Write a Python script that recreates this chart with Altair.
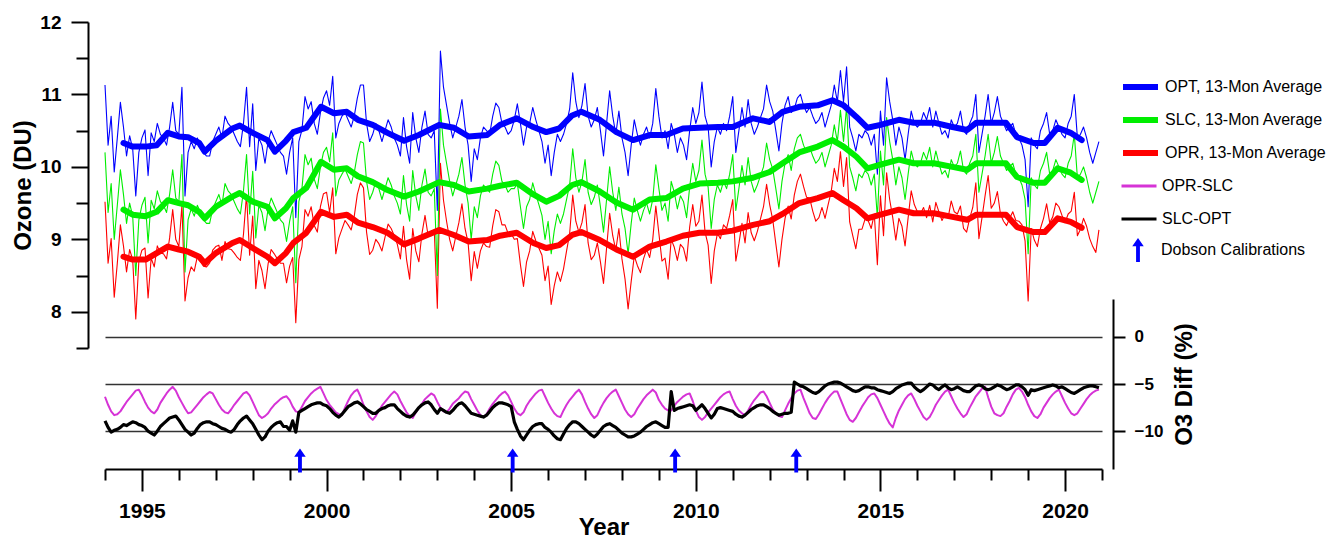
import altair as alt
import pandas as pd

START_YEAR = 1994

# ---- monthly series (one row per year, Jan..Dec) ----
OPT_MONTHLY = [
    [11.13, 10.30, 10.70, 9.93, 10.40, 10.89, 10.55, 10.15, 10.43, 10.25, 9.60, 10.20],
    [10.40, 10.51, 9.88, 10.47, 10.35, 10.60, 10.45, 10.40, 10.30, 10.55, 10.89, 10.50],
    [10.45, 11.10, 9.60, 10.20, 10.35, 10.25, 10.40, 10.30, 10.20, 10.15, 10.15, 10.35],
    [10.45, 10.55, 10.40, 10.70, 10.60, 10.55, 10.45, 10.35, 10.28, 10.60, 11.10, 10.28],
    [10.87, 9.95, 10.40, 10.30, 10.05, 10.35, 10.50, 10.40, 10.30, 10.20, 10.15, 9.90],
    [10.20, 10.40, 9.30, 10.35, 10.51, 10.97, 10.80, 10.90, 10.60, 10.45, 10.75, 10.95],
    [11.05, 10.85, 11.25, 10.40, 10.60, 10.70, 10.75, 10.65, 10.55, 10.70, 10.95, 11.13],
    [11.13, 10.60, 10.35, 10.45, 10.60, 10.50, 10.35, 10.50, 10.65, 10.55, 10.40, 10.30],
    [10.15, 10.68, 10.28, 10.05, 10.75, 10.40, 10.20, 10.55, 10.77, 10.45, 10.40, 10.50],
    [9.40, 11.60, 11.10, 10.85, 10.60, 10.40, 10.55, 10.70, 10.93, 10.55, 10.30, 9.80],
    [10.25, 10.10, 10.40, 10.55, 10.50, 10.45, 10.70, 10.88, 10.82, 10.60, 10.55, 10.45],
    [10.50, 10.65, 10.87, 10.60, 10.30, 10.55, 10.60, 10.82, 10.65, 10.50, 10.35, 10.05],
    [10.30, 9.88, 10.20, 10.45, 10.35, 10.45, 10.60, 10.80, 11.30, 10.90, 10.68, 10.85],
    [11.15, 10.70, 10.55, 10.65, 10.82, 10.50, 10.15, 10.60, 11.05, 10.70, 10.45, 10.77],
    [10.40, 10.20, 9.88, 10.30, 10.65, 10.45, 10.30, 10.45, 10.55, 10.40, 10.60, 11.08],
    [10.70, 10.40, 10.50, 10.25, 10.60, 10.45, 10.20, 10.40, 10.30, 10.10, 10.50, 10.82],
    [10.60, 10.75, 11.17, 10.70, 10.55, 10.00, 10.35, 10.55, 10.45, 10.60, 10.50, 10.70],
    [10.97, 10.20, 10.50, 10.82, 10.55, 10.93, 10.60, 10.45, 10.55, 10.68, 10.80, 11.13],
    [10.90, 10.77, 10.50, 10.22, 10.60, 10.85, 10.97, 10.75, 10.80, 10.95, 11.00, 10.85],
    [10.75, 10.82, 10.70, 10.60, 10.65, 10.75, 10.55, 10.70, 10.85, 11.13, 10.90, 11.33],
    [10.90, 11.38, 10.55, 10.40, 10.22, 10.45, 10.40, 10.50, 10.45, 10.30, 10.45, 9.90],
    [10.77, 10.30, 11.23, 10.90, 10.65, 10.30, 10.55, 10.40, 10.10, 10.45, 10.77, 10.60],
    [10.55, 10.60, 10.75, 10.65, 10.82, 10.55, 10.77, 10.60, 10.45, 10.50, 10.40, 10.65],
    [10.55, 10.60, 10.77, 10.50, 10.45, 10.60, 10.70, 11.00, 10.20, 10.45, 10.70, 11.00],
    [10.60, 10.75, 10.97, 10.70, 10.60, 10.50, 10.55, 10.60, 10.45, 10.40, 10.30, 10.10],
    [9.45, 10.40, 10.30, 10.25, 10.50, 10.60, 10.75, 10.45, 10.50, 10.65, 10.55, 10.45],
    [10.40, 10.60, 10.70, 11.00, 10.40, 10.45, 10.55, 10.40, 10.20, 10.05, 10.20, 10.35],
]

SLC_MONTHLY = [
    [10.20, 9.37, 9.77, 9.00, 9.47, 9.96, 9.62, 9.22, 9.50, 9.32, 8.50, 9.27],
    [9.47, 9.58, 8.95, 9.54, 9.42, 9.67, 9.52, 9.47, 9.37, 9.62, 9.96, 9.57],
    [9.52, 10.17, 8.55, 9.27, 9.42, 9.32, 9.47, 9.37, 9.27, 9.22, 9.22, 9.42],
    [9.52, 9.62, 9.47, 9.77, 9.67, 9.62, 9.52, 9.42, 9.35, 9.67, 10.17, 9.35],
    [9.94, 9.02, 9.47, 9.37, 9.12, 9.42, 9.57, 9.47, 9.37, 9.27, 9.22, 8.97],
    [9.25, 9.45, 8.40, 9.52, 9.70, 10.17, 10.03, 10.12, 9.83, 9.70, 10.00, 10.20],
    [10.27, 10.07, 10.47, 9.60, 9.82, 9.90, 9.97, 9.87, 9.77, 9.92, 10.17, 10.35],
    [10.33, 9.80, 9.55, 9.65, 9.80, 9.70, 9.55, 9.70, 9.85, 9.75, 9.60, 9.50],
    [9.35, 9.88, 9.48, 9.25, 9.95, 9.60, 9.40, 9.75, 9.97, 9.65, 9.60, 9.70],
    [8.50, 10.80, 10.30, 10.05, 9.80, 9.60, 9.75, 9.90, 10.13, 9.75, 9.50, 9.00],
    [9.45, 9.30, 9.60, 9.75, 9.70, 9.65, 9.90, 10.08, 10.02, 9.80, 9.75, 9.65],
    [9.70, 9.70, 9.77, 9.45, 9.15, 9.45, 9.55, 9.78, 9.62, 9.48, 9.33, 9.00],
    [9.25, 8.80, 9.12, 9.35, 9.22, 9.35, 9.55, 9.75, 10.25, 9.85, 9.65, 9.80],
    [10.10, 9.65, 9.48, 9.58, 9.75, 9.45, 9.10, 9.55, 10.00, 9.65, 9.40, 9.72],
    [9.35, 9.15, 8.80, 9.22, 9.57, 9.40, 9.25, 9.40, 9.50, 9.35, 9.55, 10.03],
    [9.70, 9.40, 9.50, 9.25, 9.80, 9.65, 9.42, 9.60, 9.52, 9.30, 9.72, 10.05],
    [9.80, 9.95, 10.37, 9.90, 9.72, 9.15, 9.55, 9.75, 9.65, 9.80, 9.70, 9.90],
    [10.17, 9.40, 9.70, 10.02, 9.75, 10.13, 9.80, 9.65, 9.75, 9.88, 10.00, 10.33],
    [10.10, 9.97, 9.70, 9.42, 9.80, 10.05, 10.17, 9.95, 10.25, 10.40, 10.45, 10.30],
    [10.20, 10.27, 10.15, 10.05, 10.10, 10.20, 10.00, 10.15, 10.30, 10.58, 10.35, 10.78],
    [10.35, 10.83, 10.00, 9.85, 9.67, 9.90, 9.85, 9.95, 9.90, 9.75, 9.90, 9.30],
    [10.22, 9.75, 10.68, 10.35, 10.10, 9.75, 10.00, 9.85, 9.55, 9.90, 10.22, 10.05],
    [10.00, 10.05, 10.20, 10.10, 10.27, 10.00, 10.22, 10.05, 9.90, 9.95, 9.85, 10.10],
    [10.00, 10.05, 10.22, 9.95, 9.90, 10.05, 10.15, 10.45, 9.65, 9.90, 10.15, 10.45],
    [10.05, 10.20, 10.42, 10.15, 10.05, 9.95, 10.00, 10.05, 9.90, 9.85, 9.75, 9.55],
    [8.80, 9.85, 9.75, 9.70, 9.95, 10.05, 10.20, 9.90, 9.95, 10.10, 10.00, 9.90],
    [9.85, 10.05, 10.15, 10.45, 9.85, 9.90, 10.00, 9.85, 9.65, 9.50, 9.65, 9.80],
]

OPR_MONTHLY = [
    [9.52, 8.67, 9.01, 8.20, 8.67, 9.20, 8.91, 8.55, 8.86, 8.72, 7.90, 8.70],
    [8.85, 8.88, 8.19, 8.74, 8.62, 8.91, 8.81, 8.80, 8.73, 9.02, 9.41, 9.00],
    [8.90, 9.47, 8.15, 8.47, 8.62, 8.56, 8.76, 8.70, 8.63, 8.62, 8.67, 8.85],
    [8.90, 8.92, 8.71, 8.97, 8.87, 8.86, 8.81, 8.75, 8.71, 9.07, 9.62, 8.78],
    [9.32, 8.32, 8.71, 8.57, 8.32, 8.66, 8.86, 8.80, 8.73, 8.67, 8.67, 8.40],
    [8.63, 8.75, 7.85, 8.72, 8.90, 9.41, 9.32, 9.45, 9.19, 9.10, 9.45, 9.63],
    [9.65, 9.37, 9.71, 8.80, 9.02, 9.14, 9.26, 9.20, 9.13, 9.32, 9.62, 9.78],
    [9.71, 9.10, 8.79, 8.85, 9.00, 8.94, 8.84, 9.03, 9.21, 9.15, 9.05, 8.93],
    [8.73, 9.18, 8.72, 8.45, 9.15, 8.84, 8.69, 9.08, 9.33, 9.05, 9.05, 9.13],
    [8.05, 10.05, 9.54, 9.25, 9.00, 8.84, 9.04, 9.23, 9.49, 9.15, 8.95, 8.43],
    [8.83, 8.60, 8.84, 8.95, 8.90, 8.89, 9.19, 9.41, 9.38, 9.20, 9.20, 9.08],
    [9.08, 9.00, 9.01, 8.65, 8.35, 8.69, 8.84, 9.11, 8.98, 8.88, 8.78, 8.43],
    [8.63, 8.10, 8.36, 8.55, 8.42, 8.59, 8.84, 9.08, 9.61, 9.25, 9.10, 9.23],
    [9.48, 8.95, 8.72, 8.78, 8.95, 8.69, 8.39, 8.88, 9.36, 9.05, 8.85, 9.15],
    [8.73, 8.45, 8.04, 8.42, 8.77, 8.64, 8.54, 8.73, 8.86, 8.75, 9.00, 9.46],
    [9.08, 8.70, 8.74, 8.45, 9.00, 8.89, 8.71, 8.93, 8.88, 8.70, 9.17, 9.48],
    [9.18, 9.25, 9.61, 9.10, 8.92, 8.39, 8.84, 9.08, 9.01, 9.20, 9.15, 9.33],
    [9.55, 8.70, 8.94, 9.22, 8.95, 9.37, 9.09, 8.98, 9.11, 9.28, 9.45, 9.76],
    [9.48, 9.27, 8.94, 8.62, 9.00, 9.29, 9.46, 9.28, 9.61, 9.80, 9.90, 9.73],
    [9.58, 9.57, 9.39, 9.25, 9.30, 9.44, 9.29, 9.48, 9.66, 9.98, 9.80, 10.21],
    [9.73, 10.13, 9.24, 9.05, 8.87, 9.14, 9.14, 9.28, 9.26, 9.15, 9.35, 8.65],
    [9.60, 9.05, 9.92, 9.55, 9.30, 8.99, 9.29, 9.18, 8.91, 9.30, 9.67, 9.48],
    [9.38, 9.35, 9.44, 9.30, 9.47, 9.24, 9.51, 9.38, 9.26, 9.35, 9.30, 9.53],
    [9.38, 9.35, 9.46, 9.15, 9.10, 9.29, 9.44, 9.78, 9.01, 9.30, 9.60, 9.88],
    [9.43, 9.50, 9.66, 9.35, 9.25, 9.19, 9.29, 9.38, 9.26, 9.25, 9.20, 8.98],
    [8.15, 9.15, 8.99, 8.90, 9.15, 9.29, 9.49, 9.23, 9.31, 9.50, 9.45, 9.33],
    [9.23, 9.35, 9.39, 9.65, 9.05, 9.14, 9.29, 9.18, 9.01, 8.90, 8.82, 9.13],
]

OPR_SLC_MONTHLY = [
    [-6.35, -7.2, -7.9, -8.3, -8.2, -7.9, -7.4, -6.9, -6.5, -6.1, -5.7, -5.6],
    [-6.2, -6.9, -7.5, -7.9, -8.1, -7.7, -7.0, -6.5, -6.0, -5.6, -5.3, -5.7],
    [-6.4, -7.0, -7.6, -8.1, -8.0, -7.6, -7.2, -6.8, -6.4, -6.1, -5.85, -6.0],
    [-6.6, -7.2, -7.7, -8.0, -8.1, -7.7, -7.2, -6.8, -6.4, -6.0, -5.85, -6.2],
    [-6.9, -7.6, -8.3, -8.6, -8.4, -8.1, -7.6, -7.2, -6.9, -6.6, -6.4, -6.3],
    [-6.7, -7.4, -7.9, -8.0, -7.4, -6.8, -6.4, -6.0, -5.7, -5.5, -5.3, -6.0],
    [-6.7, -7.2, -7.6, -8.0, -8.2, -8.3, -7.5, -6.8, -6.2, -5.8, -5.6, -6.3],
    [-7.2, -7.9, -8.5, -8.8, -8.4, -7.8, -7.3, -6.9, -6.5, -6.1, -5.8, -6.1],
    [-6.8, -7.4, -8.0, -8.4, -8.6, -8.0, -7.5, -7.1, -6.6, -6.3, -6.0, -6.2],
    [-6.9, -7.5, -7.9, -8.0, -7.6, -7.1, -6.8, -6.5, -6.1, -5.8, -5.9, -6.6],
    [-7.2, -7.8, -8.3, -8.5, -8.2, -7.6, -7.1, -6.7, -6.3, -6.0, -5.8, -6.2],
    [-6.9, -7.6, -8.1, -8.3, -8.0, -7.3, -6.8, -6.4, -6.0, -5.7, -5.6, -6.3],
    [-7.0, -7.6, -8.1, -8.4, -8.5, -7.8, -7.2, -6.7, -6.3, -5.9, -5.6, -6.1],
    [-6.9, -7.6, -8.2, -8.6, -8.3, -7.6, -7.0, -6.5, -6.1, -5.8, -5.6, -6.3],
    [-7.0, -7.7, -8.2, -8.5, -8.2, -7.6, -7.1, -6.6, -6.2, -5.9, -5.6, -5.9],
    [-6.7, -7.2, -7.6, -7.8, -7.8, -7.3, -6.9, -6.6, -6.3, -6.1, -6.0, -6.8],
    [-7.8, -8.5, -8.8, -8.5, -8.0, -7.6, -7.2, -6.8, -6.4, -6.1, -5.9, -5.8],
    [-6.6, -7.3, -7.8, -8.1, -8.3, -7.8, -7.2, -6.7, -6.3, -5.9, -5.8, -6.3],
    [-7.0, -7.7, -8.1, -8.4, -8.5, -7.8, -7.1, -6.5, -6.0, -5.7, -5.6, -6.5],
    [-7.3, -8.1, -8.6, -8.7, -8.2, -7.6, -7.0, -6.5, -6.1, -5.8, -5.8, -6.6],
    [-7.4, -8.2, -8.8, -9.0, -8.6, -8.0, -7.4, -6.9, -6.4, -6.1, -6.0, -6.5],
    [-7.2, -7.9, -8.6, -9.2, -9.6, -8.6, -7.8, -7.2, -6.6, -6.2, -6.0, -6.6],
    [-7.3, -7.9, -8.5, -8.8, -8.5, -7.9, -7.2, -6.7, -6.2, -5.8, -5.6, -6.3],
    [-7.0, -7.6, -8.1, -8.5, -8.2, -7.5, -6.9, -6.3, -5.9, -5.5, -5.3, -6.4],
    [-7.4, -8.1, -8.3, -8.4, -8.1, -7.4, -6.8, -6.1, -5.6, -5.4, -5.8, -6.4],
    [-7.2, -7.9, -8.4, -8.6, -8.2, -7.5, -7.0, -6.5, -6.1, -5.8, -5.6, -6.3],
    [-7.0, -7.6, -8.1, -8.3, -8.1, -7.6, -7.1, -6.6, -6.2, -5.9, -5.7, -5.6],
]

SLC_OPT_MONTHLY = [
    [-8.9, -9.6, -10.1, -9.9, -9.8, -9.6, -9.3, -9.4, -9.2, -9.0, -9.1, -9.3],
    [-9.4, -9.6, -10.0, -10.2, -10.4, -10.0, -9.5, -9.2, -8.9, -8.6, -8.5, -8.4],
    [-8.8, -9.3, -9.8, -10.1, -10.4, -10.2, -9.7, -9.3, -9.1, -9.0, -9.0, -9.2],
    [-9.3, -9.5, -9.7, -9.8, -10.0, -10.1, -9.8, -9.3, -8.9, -8.6, -8.4, -8.8],
    [-9.2, -9.8, -10.4, -10.9, -10.6, -10.0, -9.6, -9.3, -9.1, -9.0, -9.5, -9.5],
    [-9.9, -8.9, -10.1, -8.0, -7.8, -7.6, -7.4, -7.2, -7.1, -7.0, -7.0, -7.2],
    [-7.3, -7.6, -8.0, -8.3, -8.5, -8.2, -7.8, -7.4, -7.2, -7.0, -6.9, -7.1],
    [-7.4, -7.7, -7.9, -8.1, -8.1, -7.8, -7.6, -7.5, -7.3, -7.2, -7.2, -7.6],
    [-7.9, -8.2, -8.4, -8.5, -8.3, -7.9, -7.5, -7.2, -7.0, -6.9, -7.2, -7.7],
    [-8.1, -7.6, -7.8, -8.0, -8.1, -7.8, -7.4, -7.1, -7.0, -7.3, -7.7, -8.1],
    [-8.2, -8.3, -8.4, -8.5, -8.3, -7.9, -7.5, -7.2, -7.0, -7.0, -7.1, -7.2],
    [-7.4, -9.0, -9.8, -10.5, -10.9, -10.4, -9.9, -9.5, -9.3, -9.2, -9.2, -9.6],
    [-9.8, -10.1, -10.5, -10.8, -10.9, -10.3, -9.7, -9.3, -9.0, -9.0, -9.2, -9.5],
    [-9.8, -10.1, -10.4, -10.6, -10.3, -9.9, -9.5, -9.3, -9.2, -9.4, -9.6, -9.9],
    [-10.2, -10.4, -10.6, -10.6, -10.5, -10.3, -10.1, -9.8, -9.5, -9.3, -9.1, -9.0],
    [-9.2, -9.4, -9.6, -9.6, -5.8, -7.8, -7.6, -7.5, -7.4, -7.3, -7.2, -7.3],
    [-7.8, -7.5, -7.2, -7.6, -8.1, -8.6, -8.2, -7.6, -7.5, -7.6, -7.7, -7.8],
    [-7.9, -8.2, -8.4, -8.5, -8.3, -8.0, -7.7, -7.5, -7.3, -7.2, -7.2, -7.4],
    [-7.6, -7.9, -8.1, -8.3, -8.2, -8.1, -8.1, -8.0, -4.8, -5.0, -5.2, -5.3],
    [-5.5, -5.7, -5.9, -6.0, -5.8, -5.5, -5.2, -5.0, -4.9, -4.8, -4.8, -4.9],
    [-5.1, -5.3, -5.5, -5.7, -5.8, -5.7, -5.5, -5.3, -5.3, -5.4, -5.4, -5.6],
    [-5.7, -5.8, -5.9, -6.0, -5.8, -5.5, -5.3, -5.1, -5.0, -4.9, -4.9, -5.3],
    [-5.6, -5.8, -5.6, -5.3, -5.0, -5.1, -5.4, -5.6, -5.3, -5.1, -5.4, -5.6],
    [-5.5, -5.3, -5.5, -5.7, -5.8, -5.8, -5.5, -5.2, -5.1, -5.2, -5.5, -5.6],
    [-5.5, -5.3, -5.1, -5.2, -5.4, -5.6, -5.5, -5.3, -5.1, -5.1, -5.3, -5.6],
    [-6.2, -5.6, -5.7, -5.6, -5.5, -5.4, -5.3, -5.2, -5.1, -5.2, -5.4, -5.3],
    [-5.5, -5.7, -5.9, -6.0, -5.8, -5.6, -5.4, -5.3, -5.2, -5.2, -5.3, -5.4],
]

# ---- 13-month running averages (decimal year, DU) ----
AVG_YEARS = [
    1994.5, 1994.75, 1995.1, 1995.4, 1995.7, 1996.0, 1996.25, 1996.55, 1996.7, 1997.0,
    1997.45, 1997.65, 1998.0, 1998.4, 1998.6, 1998.9, 1999.1, 1999.45, 1999.85, 2000.2,
    2000.55, 2000.85, 2001.25, 2001.65, 2002.1, 2002.5, 2003.05, 2003.45, 2003.85, 2004.35,
    2004.7, 2005.15, 2005.6, 2005.95, 2006.3, 2006.65, 2006.9, 2007.4, 2007.85, 2008.3,
    2008.75, 2009.2, 2009.65, 2010.1, 2010.6, 2011.0, 2011.55, 2012.0, 2012.35, 2012.8,
    2013.3, 2013.7, 2014.0, 2014.35, 2014.65, 2015.0, 2015.5, 2015.9, 2016.45, 2016.95,
    2017.35, 2017.6, 2018.05, 2018.4, 2018.7, 2019.15, 2019.45, 2019.8, 2020.15, 2020.45,
]
OPT_AVG = [
    10.33, 10.28, 10.28, 10.30, 10.47, 10.42, 10.41, 10.33, 10.21, 10.36,
    10.53, 10.57, 10.47, 10.37, 10.21, 10.36, 10.48, 10.54, 10.83, 10.74,
    10.76, 10.65, 10.58, 10.47, 10.36, 10.44, 10.58, 10.54, 10.42, 10.44,
    10.58, 10.67, 10.55, 10.48, 10.53, 10.71, 10.76, 10.65, 10.48, 10.37,
    10.44, 10.44, 10.53, 10.54, 10.55, 10.55, 10.67, 10.62, 10.76, 10.83,
    10.85, 10.92, 10.85, 10.69, 10.54, 10.58, 10.65, 10.61, 10.61, 10.55,
    10.51, 10.61, 10.61, 10.61, 10.41, 10.33, 10.33, 10.54, 10.47, 10.37,
]
SLC_AVG = [
    9.41, 9.34, 9.32, 9.38, 9.54, 9.50, 9.47, 9.38, 9.29, 9.45,
    9.59, 9.64, 9.52, 9.45, 9.29, 9.43, 9.57, 9.71, 10.07, 9.96,
    9.98, 9.87, 9.79, 9.68, 9.59, 9.66, 9.79, 9.75, 9.66, 9.70,
    9.74, 9.78, 9.62, 9.52, 9.60, 9.75, 9.79, 9.66, 9.51, 9.41,
    9.55, 9.57, 9.70, 9.77, 9.78, 9.80, 9.85, 9.93, 10.05, 10.20,
    10.28, 10.37, 10.28, 10.14, 9.98, 10.03, 10.10, 10.05, 10.05, 10.00,
    9.96, 10.05, 10.05, 10.05, 9.86, 9.78, 9.78, 9.98, 9.92, 9.82,
]
OPR_AVG = [
    8.76, 8.72, 8.72, 8.81, 8.90, 8.86, 8.83, 8.76, 8.67, 8.81,
    8.95, 8.99, 8.88, 8.76, 8.67, 8.81, 8.95, 9.09, 9.38, 9.31,
    9.34, 9.23, 9.17, 9.09, 8.93, 9.01, 9.13, 9.06, 8.97, 8.99,
    9.05, 9.09, 8.95, 8.88, 8.92, 9.06, 9.10, 8.99, 8.86, 8.76,
    8.90, 8.97, 9.05, 9.09, 9.09, 9.12, 9.20, 9.25, 9.35, 9.50,
    9.57, 9.64, 9.54, 9.43, 9.29, 9.34, 9.41, 9.36, 9.36, 9.31,
    9.27, 9.34, 9.34, 9.34, 9.17, 9.10, 9.10, 9.29, 9.24, 9.16,
]

DOBSON_YEARS = [1999.28, 2005.04, 2009.44, 2012.72]
ARROW_LEVEL = -13.1  # O3 Diff axis units

AVG_LABELS = ["OPT, 13-Mon Average", "SLC, 13-Mon Average", "OPR, 13-Mon Average"]
AVG_COLORS = ["#0000ff", "#00ee00", "#ff0000"]
DIFF_LABELS = ["OPR-SLC", "SLC-OPT"]
DIFF_COLORS = ["#d633d6", "#000000"]
DOBSON_LABEL = "Dobson Calibrations"
ARROW_PATH = "M0,-1L0.48,-0.32L0.16,-0.32L0.16,1L-0.16,1L-0.16,-0.32L-0.48,-0.32Z"

FONT = "Liberation Sans"


def monthly_records(rows, label):
    recs = []
    for yi, row in enumerate(rows):
        assert len(row) == 12, (label, yi)
        for m, v in enumerate(row):
            recs.append({"t": START_YEAR + yi + m / 12.0, "val": v, "series": label})
    return recs


assert len(AVG_YEARS) == len(OPT_AVG) == len(SLC_AVG) == len(OPR_AVG)

raw_df = pd.DataFrame(
    monthly_records(OPR_MONTHLY, AVG_LABELS[2])
    + monthly_records(SLC_MONTHLY, AVG_LABELS[1])
    + monthly_records(OPT_MONTHLY, AVG_LABELS[0])
)
avg_recs = []
for lab, vals in [(AVG_LABELS[2], OPR_AVG), (AVG_LABELS[1], SLC_AVG), (AVG_LABELS[0], OPT_AVG)]:
    for t, v in zip(AVG_YEARS, vals):
        avg_recs.append({"t": t, "val": v, "series": lab})
avg_df = pd.DataFrame(avg_recs)

mag_df = pd.DataFrame(monthly_records(OPR_SLC_MONTHLY, DIFF_LABELS[0]))
blk_df = pd.DataFrame(monthly_records(SLC_OPT_MONTHLY, DIFF_LABELS[1]))
arrow_df = pd.DataFrame({"t": DOBSON_YEARS, "val": [ARROW_LEVEL] * len(DOBSON_YEARS),
                         "label": [DOBSON_LABEL] * len(DOBSON_YEARS)})

# ---- encodings ----
x_enc = alt.X(
    "t:Q",
    scale=alt.Scale(domain=[1994, 2021], nice=False, zero=False),
    axis=alt.Axis(
        title="Year", values=list(range(1994, 2022)), format="d",
        labelExpr="datum.value % 5 === 0 ? datum.label : ''",
        tickSize={"condition": {"test": "datum.value % 5 === 0", "value": 22}, "value": 11},
        labelFontSize=21, labelPadding=9, titleFontSize=24, titlePadding=13,
        titleBaseline="alphabetic",
        grid=False, labelFlush=False, labelOverlap=False,
    ),
)

left_vals = [7.5, 8, 8.5, 9, 9.5, 10, 10.5, 11, 11.5, 12]
yl = alt.Y(
    "val:Q",
    scale=alt.Scale(domain=[7.5, 12], range=[326, 0], nice=False, zero=False),
    axis=alt.Axis(
        title="Ozone (DU)", orient="left", offset=17, values=left_vals,
        labelExpr="datum.value % 1 === 0 ? '' + datum.value : ''",
        tickSize={"condition": {"test": "datum.value % 1 === 0", "value": 17}, "value": 12},
        labelFontSize=19, labelPadding=10, titleFontSize=24, titlePadding=4,
        grid=False, labelOverlap=False,
    ),
)

yr = alt.Y(
    "val:Q",
    scale=alt.Scale(domain=[-14, 4], range=[447, 277], nice=False, zero=False),
    axis=alt.Axis(
        title="O3 Diff (%)", orient="right", offset=11, values=[-10, -5, 0], format="d",
        tickSize=12, labelFontSize=17, labelPadding=9, titleFontSize=24, titlePadding=10,
        titleAngle=270, titleBaseline="top",
        grid=True, gridColor="#333333", gridWidth=1.4, labelOverlap=False,
    ),
)

color_enc = alt.Color(
    "series:N",
    scale=alt.Scale(domain=AVG_LABELS, range=AVG_COLORS),
    legend=alt.Legend(
        title=None, orient="none", legendX=1015, legendY=50, symbolType="stroke",
        symbolSize=1225, symbolStrokeWidth=6, labelOffset=4, clipHeight=30, rowPadding=3,
        padding=0, labelFontSize=16, labelFont=FONT, labelColor="black", labelLimit=400,
    ),
)
stroke_enc = alt.Stroke(
    "series:N",
    scale=alt.Scale(domain=DIFF_LABELS, range=DIFF_COLORS),
    legend=alt.Legend(
        title=None, orient="none", legendX=1015, legendY=149, symbolType="stroke",
        symbolSize=1225, symbolStrokeWidth=3, labelOffset=4, clipHeight=30, rowPadding=3,
        padding=0, labelFontSize=16, labelFont=FONT, labelColor="black", labelLimit=400,
    ),
)
shape_enc = alt.Shape(
    "label:N",
    scale=alt.Scale(domain=[DOBSON_LABEL], range=[ARROW_PATH]),
    legend=alt.Legend(
        title=None, orient="none", legendX=1021, legendY=213, symbolSize=576,
        symbolFillColor="#0000ff", symbolStrokeColor="#0000ff", symbolStrokeWidth=0,
        symbolOpacity=1, labelOffset=11, clipHeight=30, padding=0,
        labelFontSize=16, labelFont=FONT, labelColor="black", labelLimit=400,
    ),
)

raw_layer = alt.Chart(raw_df).mark_line(strokeWidth=1.1, strokeJoin="round").encode(
    x=x_enc, y=yl, color=color_enc, detail="series:N", order="t:Q"
)
avg_layer = alt.Chart(avg_df).mark_line(strokeWidth=6, strokeJoin="round", strokeCap="round").encode(
    x=x_enc, y=yl, color=color_enc, detail="series:N", order="t:Q"
)
left = alt.layer(raw_layer, avg_layer)

mag_layer = alt.Chart(mag_df).mark_line(strokeWidth=2, strokeJoin="round").encode(
    x=x_enc, y=yr, stroke=stroke_enc, order="t:Q"
)
blk_layer = alt.Chart(blk_df).mark_line(strokeWidth=3.2, strokeJoin="round").encode(
    x=x_enc, y=yr, stroke=stroke_enc, order="t:Q"
)
arrow_layer = alt.Chart(arrow_df).mark_point(
    filled=True, size=576, color="#0000ff", opacity=1, strokeWidth=0
).encode(x=x_enc, y=yr, shape=shape_enc)
right = alt.layer(mag_layer, blk_layer, arrow_layer)

chart = (
    alt.layer(left, right)
    .resolve_scale(y="independent")
    .properties(
        width=997, height=447,
        autosize=alt.AutoSizeParams(type="none"),
        padding={"left": 97, "top": 14, "right": 226, "bottom": 70},
        background="white",
    )
    .configure_view(stroke=None)
    .configure_axis(
        domainColor="black", domainWidth=2, tickColor="black", tickWidth=2,
        labelFont=FONT, labelFontWeight="bold", labelColor="black",
        titleFont=FONT, titleFontWeight="bold", titleColor="black",
    )
)

chart.save("out.html", embed_options={"renderer": "svg", "actions": False})
